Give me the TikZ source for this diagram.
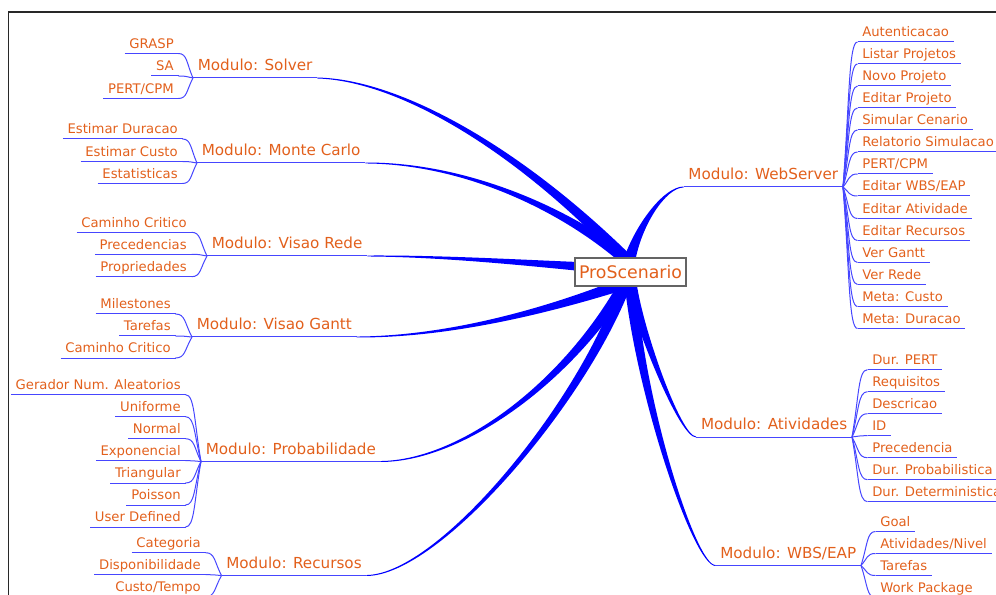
\documentclass[tikz,border=0pt]{standalone}
\usepackage{fontspec}
\setmainfont{DejaVu Sans}
\usetikzlibrary{calc}
\definecolor{txtor}{RGB}{226,96,28}
\definecolor{edgeblue}{RGB}{0,0,255}
\definecolor{thinblue}{RGB}{70,70,255}
\definecolor{framegray}{RGB}{40,40,40}
\definecolor{boxgray}{RGB}{100,100,100}
\pgfdeclarelayer{background}
\pgfsetlayers{background,main}
\newcommand\childfont{\fontsize{9.9pt}{12pt}\selectfont}
\newcommand\modfont{\fontsize{11.4pt}{14pt}\selectfont}
\newcommand\rootfont{\fontsize{13pt}{16pt}\selectfont}
\tikzset{
  lchild/.style={anchor=south east, font=\childfont, text=txtor, inner xsep=3.4pt, inner ysep=0pt, text height=7.5pt, text depth=3.75pt},
  rchild/.style={lchild, anchor=south west},
  modnode/.style={font=\modfont, text=txtor, inner xsep=3.4pt, inner ysep=0pt, text height=8.5pt, text depth=5.25pt},
  thinedge/.style={draw=thinblue, line width=0.75pt},
  rootnode/.style={draw=boxgray, line width=0.8pt, fill=white, font=\rootfont, text=txtor, minimum width=83.25pt, minimum height=21pt, inner sep=0pt},
  framestyle/.style={draw=framegray, line width=0.8pt}
}
\newcommand\branchto[2]{%
  \draw[thinedge] let \p1=(#1), \p2=(#2) in (\p1) .. controls (\x1+0.6*\x2-0.6*\x1,\y1) and (\x1+0.55*\x2-0.55*\x1,\y1+0.4*\y2-0.4*\y1) .. (\p2);}
\newcommand\lkid[5]{%
  \node[lchild] (#1) at (#2,#3) {#4};
  \draw[thinedge] (#1.south west) -- (#1.south east);
  \branchto{#1.south east}{#5}}
\newcommand\rkid[5]{%
  \node[rchild] (#1) at (#2,#3) {#4};
  \draw[thinedge] (#1.south west) -- (#1.south east);
  \branchto{#1.south west}{#5}}
\newcommand\rootedge[4]{%
  \fill[edgeblue] ($(#1)!0.35pt!90:(#2)$) .. controls ($(#2)!0.8pt!90:(#3)$) and ($(#3)!2.2pt!90:(#4)$) .. ($(#4)!4.5pt!-90:(#3)$) -- ($(#4)!4.5pt!90:(#3)$) .. controls ($(#3)!2.2pt!-90:(#4)$) and ($(#2)!0.8pt!-90:(#3)$) .. ($(#1)!0.35pt!-90:(#2)$) -- cycle;}
\begin{document}
\begin{tikzpicture}[x=0.75pt,y=-0.75pt]
\useasboundingbox (0,0) rectangle (996,595);
\draw[framestyle] (8.5,700) -- (8.5,12) -- (1100,12);

% root
\node[rootnode] (root) at (630.5,272) {ProScenario};
\coordinate (rt) at ($(root.center)+(-1.5,-10)$);
\coordinate (rc) at ($(root.center)+(0,-2)$);
\coordinate (rb) at ($(root.center)+(-5,11)$);
\coordinate (rb2) at ($(root.center)+(0,11)$);

% modules
\node[modnode, anchor=south west] (m1) at (193,78) {Modulo: Solver};
\node[modnode, anchor=south west] (m2) at (197,163) {Modulo: Monte Carlo};
\node[modnode, anchor=south west] (m3) at (207,256) {Modulo: Visao Rede};
\node[modnode, anchor=south west] (m4) at (192,337) {Modulo: Visao Gantt};
\node[modnode, anchor=south west] (m5) at (201,461.5) {Modulo: Probabilidade};
\node[modnode, anchor=south west] (m6) at (221.5,575.5) {Modulo: Recursos};
\node[modnode, anchor=south east] (m7) at (843,187) {Modulo: WebServer};
\node[modnode, anchor=south east] (m8) at (852,437) {Modulo: Atividades};
\node[modnode, anchor=south east] (m9) at (861,565.5) {Modulo: WBS/EAP};
\foreach \m in {m1,m2,m3,m4,m5,m6,m7,m8,m9}{\draw[thinedge] (\m.south west) -- (\m.south east);}

\begin{pgfonlayer}{background}
\rootedge{m1.south east}{400,80}{520,150}{rt}
\rootedge{m2.south east}{460,163}{560,205}{rt}
\rootedge{m3.south east}{450,256}{540,264}{rc}
\rootedge{m4.south east}{450,337}{550,310}{rb}
\rootedge{m5.south east}{460,461}{565,385}{rb}
\rootedge{m6.south east}{440,575}{585,400}{rb}
\rootedge{m7.south west}{665,187}{638,225}{rt}
\rootedge{m8.south west}{680,437}{640,330}{rb2}
\rootedge{m9.south west}{695,566}{640,400}{rb2}
\end{pgfonlayer}

% Solver
\lkid{s1}{178.5}{53.5}{GRASP}{m1.south west}
\lkid{s2}{178.5}{76}{SA}{m1.south west}
\lkid{s3}{178.5}{98.5}{PERT/CPM}{m1.south west}
% Monte Carlo
\lkid{mc1}{182.5}{139}{Estimar Duracao}{m2.south west}
\lkid{mc2}{182.5}{161.5}{Estimar Custo}{m2.south west}
\lkid{mc3}{182.5}{183.5}{Estatisticas}{m2.south west}
% Visao Rede
\lkid{vr1}{191.5}{232.3}{Caminho Critico}{m3.south west}
\lkid{vr2}{191.5}{254.3}{Precedencias}{m3.south west}
\lkid{vr3}{191.5}{276.7}{Propriedades}{m3.south west}
% Visao Gantt
\lkid{vg1}{175.5}{314}{Milestones}{m4.south west}
\lkid{vg2}{175.5}{336}{Tarefas}{m4.south west}
\lkid{vg3}{175.5}{358}{Caminho Critico}{m4.south west}
% Probabilidade
\lkid{p1}{185.5}{394.7}{Gerador Num. Aleatorios}{m5.south west}
\lkid{p2}{185.5}{416.7}{Uniforme}{m5.south west}
\lkid{p3}{185.5}{438.7}{Normal}{m5.south west}
\lkid{p4}{185.5}{460.7}{Exponencial}{m5.south west}
\lkid{p5}{185.5}{483}{Triangular}{m5.south west}
\lkid{p6}{185.5}{505}{Poisson}{m5.south west}
\lkid{p7}{185.5}{527}{User Defined}{m5.south west}
% Recursos
\lkid{r1}{205.5}{552.7}{Categoria}{m6.south west}
\lkid{r2}{205.5}{574.7}{Disponibilidade}{m6.south west}
\lkid{r3}{205.5}{596.7}{Custo/Tempo}{m6.south west}
% WebServer
\rkid{w1}{857.5}{42}{Autenticacao}{m7.south east}
\rkid{w2}{857.5}{64}{Listar Projetos}{m7.south east}
\rkid{w3}{857.5}{86}{Novo Projeto}{m7.south east}
\rkid{w4}{857.5}{108}{Editar Projeto}{m7.south east}
\rkid{w5}{857.5}{130}{Simular Cenario}{m7.south east}
\rkid{w6}{857.5}{152}{Relatorio Simulacao}{m7.south east}
\rkid{w7}{857.5}{174}{PERT/CPM}{m7.south east}
\rkid{w8}{857.5}{196}{Editar WBS/EAP}{m7.south east}
\rkid{w9}{857.5}{218.5}{Editar Atividade}{m7.south east}
\rkid{w10}{857.5}{240.5}{Editar Recursos}{m7.south east}
\rkid{w11}{857.5}{262.5}{Ver Gantt}{m7.south east}
\rkid{w12}{857.5}{284.5}{Ver Rede}{m7.south east}
\rkid{w13}{857.5}{306.5}{Meta: Custo}{m7.south east}
\rkid{w14}{857.5}{328.5}{Meta: Duracao}{m7.south east}
% Atividades
\rkid{a1}{867.5}{369.7}{Dur. PERT}{m8.south east}
\rkid{a2}{867.5}{391.7}{Requisitos}{m8.south east}
\rkid{a3}{867.5}{413.7}{Descricao}{m8.south east}
\rkid{a4}{867.5}{435.7}{ID}{m8.south east}
\rkid{a5}{867.5}{457.7}{Precedencia}{m8.south east}
\rkid{a6}{867.5}{479.7}{Dur. Probabilistica}{m8.south east}
\rkid{a7}{867.5}{501.7}{Dur. Deterministica}{m8.south east}
% WBS/EAP
\rkid{b1}{875.5}{531.5}{Goal}{m9.south east}
\rkid{b2}{875.5}{553.5}{Atividades/Nivel}{m9.south east}
\rkid{b3}{875.5}{575.5}{Tarefas}{m9.south east}
\rkid{b4}{875.5}{597.5}{Work Package}{m9.south east}
\end{tikzpicture}
\end{document}
